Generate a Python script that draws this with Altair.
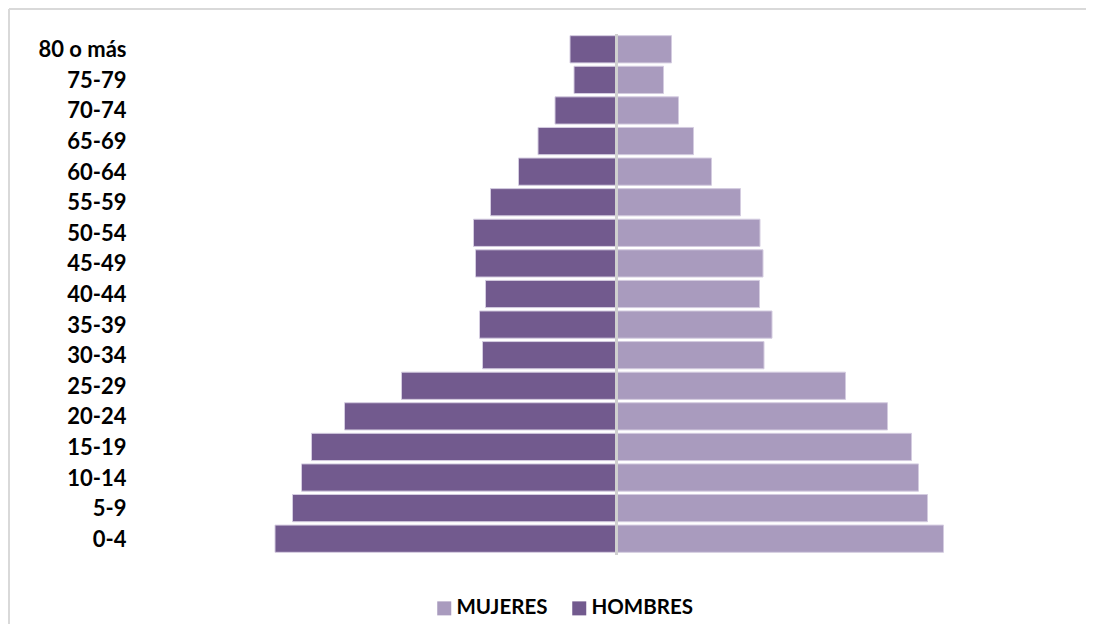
import altair as alt
import pandas as pd

groups = ["80 o más", "75-79", "70-74", "65-69", "60-64", "55-59", "50-54",
          "45-49", "40-44", "35-39", "30-34", "25-29", "20-24", "15-19",
          "10-14", "5-9", "0-4"]
hombres = [46.5, 42.5, 61.5, 78.5, 98, 126, 143, 141, 131, 137, 134,
           215, 272, 305, 315, 324, 341.5]
mujeres = [55, 47, 62, 77, 95, 124, 143.5, 146.5, 143, 155.5, 147.5,
           229, 271, 295, 302, 311, 327]
sexes = ["MUJERES", "HOMBRES"]
colors = ["#A99BBE", "#725A8E"]

rows = []
for g, h, m in zip(groups, hombres, mujeres):
    rows.append({"grupo": g, "sexo": "HOMBRES", "valor": -h})
    rows.append({"grupo": g, "sexo": "MUJERES", "valor": m})
df = pd.DataFrame(rows)

FONT = "Lato"

bars = alt.Chart(df).mark_bar(stroke="#d4cce0", strokeWidth=1).encode(
    x=alt.X("valor:Q", axis=None,
            scale=alt.Scale(domain=[-480.5, 469.5], nice=False, zero=False)),
    y=alt.Y("grupo:N", sort=groups, title=None,
            scale=alt.Scale(paddingInner=0.11, paddingOuter=0.055),
            axis=alt.Axis(domain=False, ticks=False, labelPadding=10, labelOffset=1,
                          labelFont=FONT, labelFontSize=22, labelFontWeight="bold",
                          labelColor="#000000")),
    color=alt.Color("sexo:N",
                    scale=alt.Scale(domain=sexes, range=colors),
                    legend=alt.Legend(title=None, orient="none", direction="horizontal",
                                      legendX=298, legendY=564, symbolType="square",
                                      symbolSize=196, symbolStrokeWidth=0,
                                      labelFont=FONT, labelFontSize=20.5,
                                      labelFontWeight="bold", labelColor="#000000",
                                      labelOffset=2, columnPadding=21, padding=0)),
)

center = alt.Chart(df).mark_rule(color="#d0d0d0", strokeWidth=2).encode(
    x=alt.datum(0), y=alt.value(0), y2=alt.value(521)
)

border_left = alt.Chart(df).mark_rule(color="#d9d9d9", strokeWidth=2).encode(
    x=alt.value(-127), y=alt.value(-25), y2=alt.value(600)
)
border_top = alt.Chart(df).mark_rule(color="#d9d9d9", strokeWidth=2).encode(
    x=alt.value(-127), x2=alt.value(950), y=alt.value(-25)
)

chart = alt.layer(bars, center, border_left, border_top).properties(
    width=950, height=520,
    autosize=alt.AutoSizeParams(type="none"),
    padding={"left": 128, "top": 26, "right": 0, "bottom": 70},
).configure_view(stroke=None)

chart.save("out.html", embed_options={"renderer": "svg", "actions": False})
